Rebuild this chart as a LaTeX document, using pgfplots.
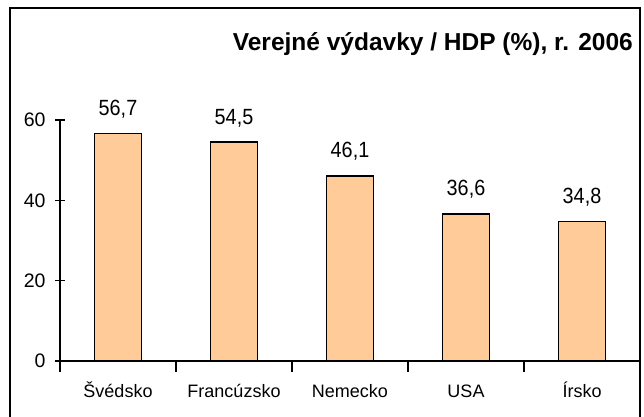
\documentclass[border=0pt]{standalone}
\usepackage{pgfplots}
\pgfplotsset{compat=1.18}
\usepackage{fontspec}
\setmainfont{Liberation Sans}
\newfontfamily\narrowfont[FakeStretch=0.9]{Liberation Sans}
\usetikzlibrary{calc}
\definecolor{barfill}{HTML}{FFCC99}
\begin{document}
\begin{tikzpicture}[x=1pt,y=1pt]
\begin{axis}[
  anchor=south west,
  width=580pt, height=241pt, scale only axis,
  xmin=0.5, xmax=5.5, ymin=0, ymax=60,
  axis x line=bottom, axis y line=left,
  axis line style={line width=1.4pt,-},
  ytick={0,20,40,60},
  xtick={1,2,3,4,5},
  xticklabels={Švédsko,Francúzsko,Nemecko,USA,Írsko},
  minor xtick={0.5,1.5,2.5,3.5,4.5,5.5},
  major x tick style={draw=none},
  minor x tick style={line width=1.4pt,black},
  y tick style={line width=1.4pt,black},
  tick align=center,
  major tick length=10pt, minor tick length=11pt,
  /pgf/number format/assume math mode=true,
  yticklabel style={font=\fontsize{19.5}{22}\selectfont, xshift=-6pt},
  xticklabel style={font=\fontsize{18}{21}\selectfont, anchor=north, text height=13pt, text depth=4pt, yshift=-10pt},
  ybar, bar width=47pt,
  nodes near coords,
  nodes near coords style={font=\narrowfont\fontsize{22}{25}\selectfont, anchor=base, yshift=18pt, inner sep=0pt,
    /pgf/number format/.cd, fixed, fixed zerofill, precision=1, use comma, assume math mode=true},
  clip=false,
]
\addplot[draw=black, line width=1.4pt, fill=barfill] coordinates {(1,56.7) (2,54.5) (3,46.1) (4,36.6) (5,34.8)};
\coordinate (o) at (rel axis cs:0,0);
\end{axis}
\pgfresetboundingbox
\path[use as bounding box] ($(o)+(-60,-55)$) rectangle ($(o)+(584,361)$);
\node[anchor=base east, font=\bfseries\fontsize{24.5}{28}\selectfont, inner sep=0pt] at ($(o)+(573,311)$) {Verejné výdavky / HDP (\%), r. 2006};
\draw[line width=2pt] ($(o)+(-50,-70)$) -- ($(o)+(-50,353)$) -- ($(o)+(579.5,353)$) -- ($(o)+(579.5,-70)$);
\end{tikzpicture}
\end{document}
